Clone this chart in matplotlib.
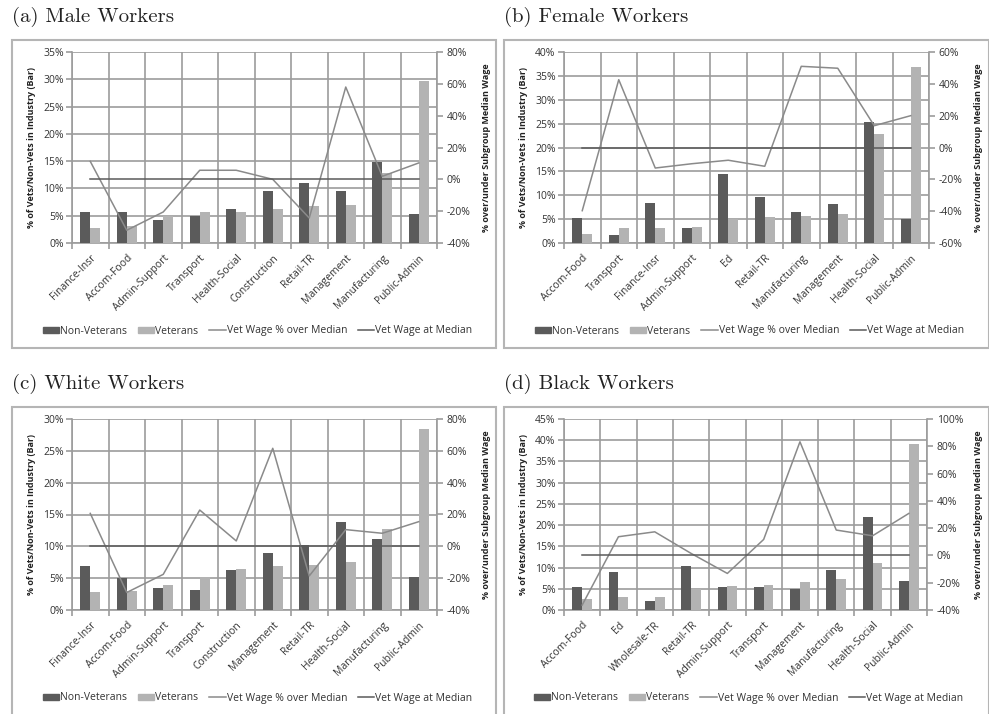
import numpy as np
import matplotlib.pyplot as plt
from matplotlib.patches import Rectangle
from matplotlib.lines import Line2D
from matplotlib.ticker import FuncFormatter, MultipleLocator

# (a) Male workers
male_cats = ['Finance-Insr', 'Accom-Food', 'Admin-Support', 'Transport', 'Health-Social',
             'Construction', 'Retail-TR', 'Management', 'Manufacturing', 'Public-Admin']
male_nonvet = [5.6, 5.6, 4.3, 4.9, 6.2, 9.5, 11.0, 9.6, 14.8, 5.4]
male_vet = [2.8, 3.2, 4.9, 5.6, 5.6, 6.2, 6.8, 7.0, 12.9, 29.6]
male_wage = [11.3, -32, -20.5, 5.7, 5.7, 0, -24.3, 58, 1.9, 10.3]

# (b) Female workers
female_cats = ['Accom-Food', 'Transport', 'Finance-Insr', 'Admin-Support', 'Ed',
               'Retail-TR', 'Manufacturing', 'Management', 'Health-Social', 'Public-Admin']
female_nonvet = [5.2, 1.7, 8.4, 3.1, 14.5, 9.6, 6.5, 8.2, 25.3, 5.1]
female_vet = [1.9, 3.1, 3.1, 3.3, 5.0, 5.4, 5.7, 6.1, 22.8, 36.8]
female_wage = [-39.7, 42.6, -12.9, -10.2, -8, -11.8, 51, 49.8, 13.7, 20]

# (c) White workers
white_cats = ['Finance-Insr', 'Accom-Food', 'Admin-Support', 'Transport', 'Construction',
              'Management', 'Retail-TR', 'Health-Social', 'Manufacturing', 'Public-Admin']
white_nonvet = [6.9, 5.1, 3.5, 3.1, 6.3, 8.9, 10.2, 13.9, 11.1, 5.2]
white_vet = [2.9, 3.0, 4.0, 5.2, 6.4, 6.9, 7.0, 7.6, 12.7, 28.4]
white_wage = [20.7, -29, -17.6, 22.8, 3.4, 61.6, -18.6, 10.5, 8.2, 15.5]

# (d) Black workers
black_cats = ['Accom-Food', 'Ed', 'Wholesale-TR', 'Retail-TR', 'Admin-Support',
              'Transport', 'Management', 'Manufacturing', 'Health-Social', 'Public-Admin']
black_nonvet = [5.5, 9.0, 2.1, 10.4, 5.5, 5.5, 5.0, 9.4, 22.0, 6.9]
black_vet = [2.7, 3.1, 3.1, 4.9, 5.7, 5.8, 6.6, 7.2, 11.0, 39.1]
black_wage = [-36.4, 13.7, 17.3, 1.5, -13.2, 11.7, 83.3, 18.6, 14.4, 30.8]

DARK = '#5b5b5b'
LIGHT = '#b3b3b3'
WAGE = '#8a8a8a'
MED = '#5a5a5a'
GRID = '#9c9c9c'
FONT = 'Open Sans'
TXT = '#333333'

W, H = 989, 714
fig = plt.figure(figsize=(W / 100, H / 100), dpi=100)


def px_axes(x0, y0, x1, y1):
    return fig.add_axes([x0 / W, 1 - y1 / H, (x1 - x0) / W, (y1 - y0) / H])


pct = FuncFormatter(lambda v, p: '%d%%' % round(v))


def panel(title, box, area, cats, nonvet, vet, wage, lmax, rmin, rmax, legend_y):
    bx0, by0, bx1, by1 = box
    fig.patches.append(Rectangle((bx0 / W, 1 - by1 / H), (bx1 - bx0) / W, (by1 - by0) / H,
                                 transform=fig.transFigure, fill=False,
                                 edgecolor='#b5b5b5', linewidth=1.5))
    fig.text(bx0 / W, 1 - (by0 - 23) / H, title, fontfamily='cmr10',
             fontsize=15, va='center', ha='left', color='#222222')

    ax = px_axes(*area)
    x = np.arange(len(cats))
    w = 0.27
    ax.bar(x - w / 2, nonvet, w, color=DARK, zorder=3)
    ax.bar(x + w / 2, vet, w, color=LIGHT, zorder=3)
    ax.set_xlim(-0.5, len(cats) - 0.5)
    ax.set_ylim(0, lmax)
    ax.yaxis.set_major_locator(MultipleLocator(5))
    ax.yaxis.set_major_formatter(pct)
    ax.set_xticks(x)
    ax.set_xticklabels(cats, rotation=45, ha='right', rotation_mode='anchor',
                       fontsize=7.5, fontfamily=FONT, color=TXT)
    ax.set_xticks(np.arange(len(cats) + 1) - 0.5, minor=True)
    ax.tick_params(axis='x', which='major', length=0, pad=7)
    ax.tick_params(axis='x', which='minor', length=4, color=GRID, width=1.2)
    ax.tick_params(axis='y', length=4, color=GRID, width=1.2, labelsize=7.5,
                   labelcolor=TXT, pad=2)
    for lab in ax.get_yticklabels():
        lab.set_fontfamily(FONT)
    ax.grid(True, axis='y', color=GRID, linewidth=1.2, zorder=0)
    ax.grid(True, axis='x', which='minor', color=GRID, linewidth=1.2, zorder=0)
    for s in ['top', 'right']:
        ax.spines[s].set_visible(False)
    for s in ['left', 'bottom']:
        ax.spines[s].set_color(GRID)
        ax.spines[s].set_linewidth(1.2)
    ax.set_ylabel('% of Vets/Non-Vets in Industry (Bar)', fontsize=6.5, fontweight='bold',
                  fontfamily=FONT, color='#222222', labelpad=5)

    ax2 = ax.twinx()
    ax2.plot(x, wage, color=WAGE, linewidth=1.1, zorder=4)
    ax2.plot(x, np.zeros(len(cats)), color=MED, linewidth=1.1, zorder=4)
    ax2.set_ylim(rmin, rmax)
    ax2.yaxis.set_major_locator(MultipleLocator(20))
    ax2.yaxis.set_major_formatter(pct)
    ax2.tick_params(axis='y', length=4, color=GRID, width=1.2, labelsize=7.5,
                    labelcolor=TXT, pad=3)
    for lab in ax2.get_yticklabels():
        lab.set_fontfamily(FONT)
    for s in ['top', 'left', 'bottom']:
        ax2.spines[s].set_visible(False)
    ax2.spines['right'].set_color(GRID)
    ax2.spines['right'].set_linewidth(1.2)
    ax2.set_ylabel('% over/under Subgroup Median Wage', fontsize=6.5, fontweight='bold',
                   fontfamily=FONT, color='#222222', labelpad=8)

    handles = [Rectangle((0, 0), 1, 1, color=DARK), Rectangle((0, 0), 1, 1, color=LIGHT),
               Line2D([], [], color=WAGE, linewidth=1.1), Line2D([], [], color=MED, linewidth=1.1)]
    labels = ['Non-Veterans', 'Veterans', 'Vet Wage % over Median', 'Vet Wage at Median']
    cx = (area[0] + area[2]) / 2 + 3
    fig.legend(handles, labels, loc='center', bbox_to_anchor=(cx / W, 1 - legend_y / H),
               ncol=4, frameon=False, prop={'family': FONT, 'size': 7.5},
               handlelength=1.6, handleheight=0.5, handletextpad=0.1, columnspacing=1.0,
               labelcolor=TXT)


panel('(a) Male Workers', (12, 40, 496, 348), (72, 52, 437, 243),
      male_cats, male_nonvet, male_vet, male_wage, 35, -40, 80, 331)
panel('(b) Female Workers', (504, 40, 989, 348), (564, 52, 929, 243),
      female_cats, female_nonvet, female_vet, female_wage, 40, -60, 60, 331)
panel('(c) White Workers', (12, 407, 496, 716), (72, 419, 437, 610),
      white_cats, white_nonvet, white_vet, white_wage, 30, -40, 80, 698)
panel('(d) Black Workers', (504, 407, 989, 716), (564, 419, 927, 610),
      black_cats, black_nonvet, black_vet, black_wage, 45, -40, 100, 698)

fig.savefig('out.png', dpi=100)
